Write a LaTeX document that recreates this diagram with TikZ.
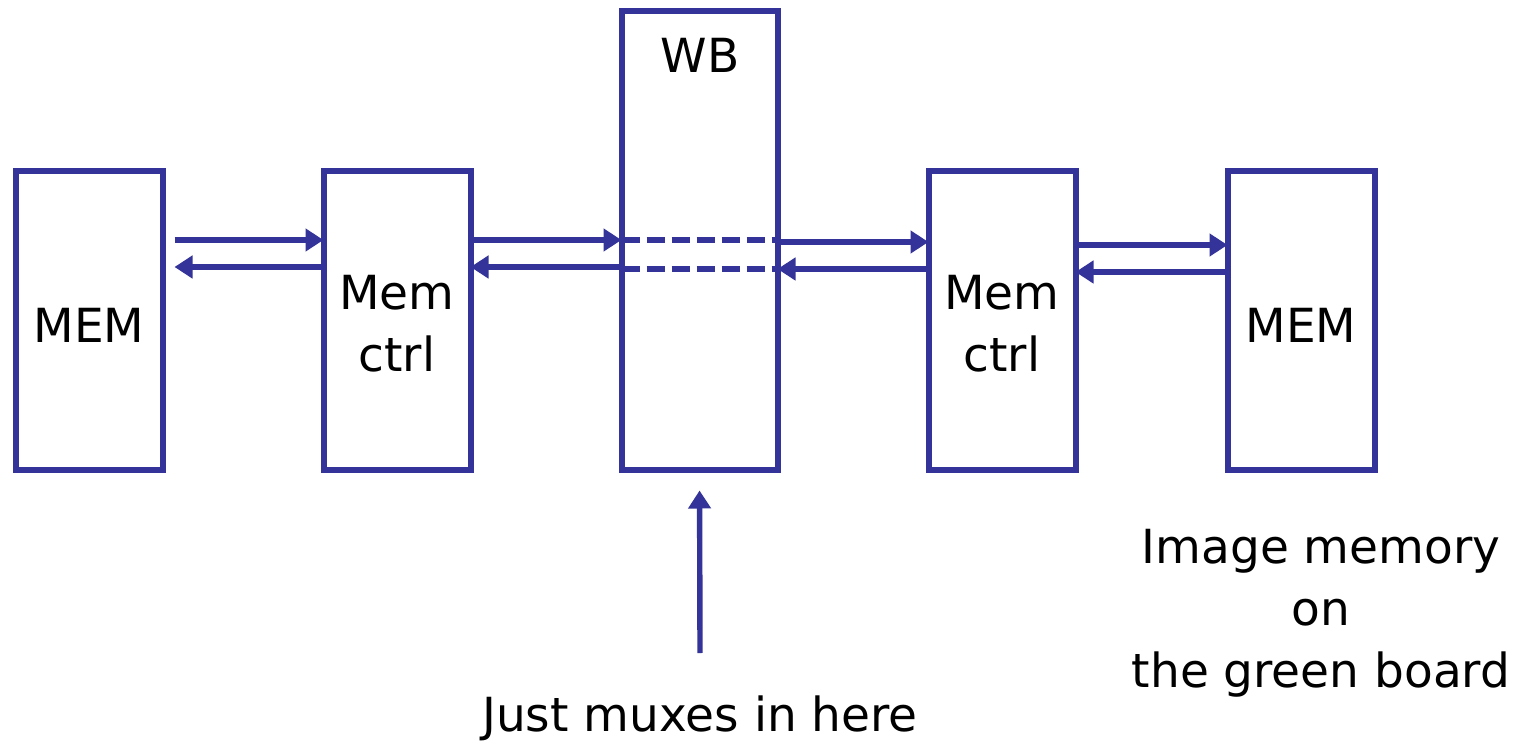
\documentclass[tikz,border=0pt]{standalone}
\usepackage{fontspec}
\setmainfont{DejaVu Sans}
\usetikzlibrary{arrows.meta}
\definecolor{linkblue}{HTML}{333399}
\tikzset{
  blk/.style={draw=linkblue, line width=3pt, outer sep=0pt, inner sep=0pt,
    minimum width=73.5pt, minimum height=149pt},
  lbl/.style={font=\fontsize{23.5}{31}\selectfont, align=center, text=black, inner sep=0pt},
  arr/.style={draw=linkblue, line width=2.7pt, -{Triangle[length=9pt,width=11pt]}},
  bus/.style={draw=linkblue, line width=2.7pt, dash pattern=on 9pt off 3.5pt}
}
\begin{document}
\begin{tikzpicture}[x=0.5pt,y=-0.5pt]
\useasboundingbox (0,0) rectangle (1518,742);

% blocks
\node[blk] (m1) at (89,320.5) {};
\node[blk] (c1) at (397,320.5) {};
\node[blk, minimum width=78pt, minimum height=229pt] (wb) at (699.5,240.5) {};
\node[blk] (c2) at (1002,320.5) {};
\node[blk] (m2) at (1301,320.5) {};

% block labels
\node[lbl] at (89,325) {MEM};
\node[lbl] at (397,324) {Mem\\ctrl};
\node[lbl] at (700,55) {WB};
\node[lbl] at (1002,324) {Mem\\ctrl};
\node[lbl] at (1301,325) {MEM};

% signal rows
\coordinate (r1) at (0,240);
\coordinate (r2) at (0,267);
\coordinate (r3) at (0,242);
\coordinate (r4) at (0,269);
\coordinate (r5) at (0,245);
\coordinate (r6) at (0,272);

% memory <-> controller (left)
\draw[arr, shorten <=6pt] (m1.east|-r1) -- (c1.west|-r1);
\draw[arr, shorten >=6pt] (c1.west|-r2) -- (m1.east|-r2);

% controller <-> WB (left)
\draw[arr] (c1.east|-r1) -- (wb.west|-r1);
\draw[arr] (wb.west|-r2) -- (c1.east|-r2);

% pass-through inside WB
\draw[bus] (wb.west|-r1) -- (wb.east|-r1);
\draw[bus] (wb.west|-r4) -- (wb.east|-r4);

% WB <-> controller (right)
\draw[arr] (wb.east|-r3) -- (c2.west|-r3);
\draw[arr] (c2.west|-r4) -- (wb.east|-r4);

% controller <-> memory (right)
\draw[arr] (c2.east|-r5) -- (m2.west|-r5);
\draw[arr] (m2.west|-r6) -- (c2.east|-r6);

% annotation
\coordinate (note) at (700,653);
\draw[arr, shorten >=10.5pt] (note) -- (wb.south);
\node[lbl] at (700,718) {Just muxes in here};
\node[lbl] at (1321,613) {Image memory\\on\\the green board};
\end{tikzpicture}
\end{document}
